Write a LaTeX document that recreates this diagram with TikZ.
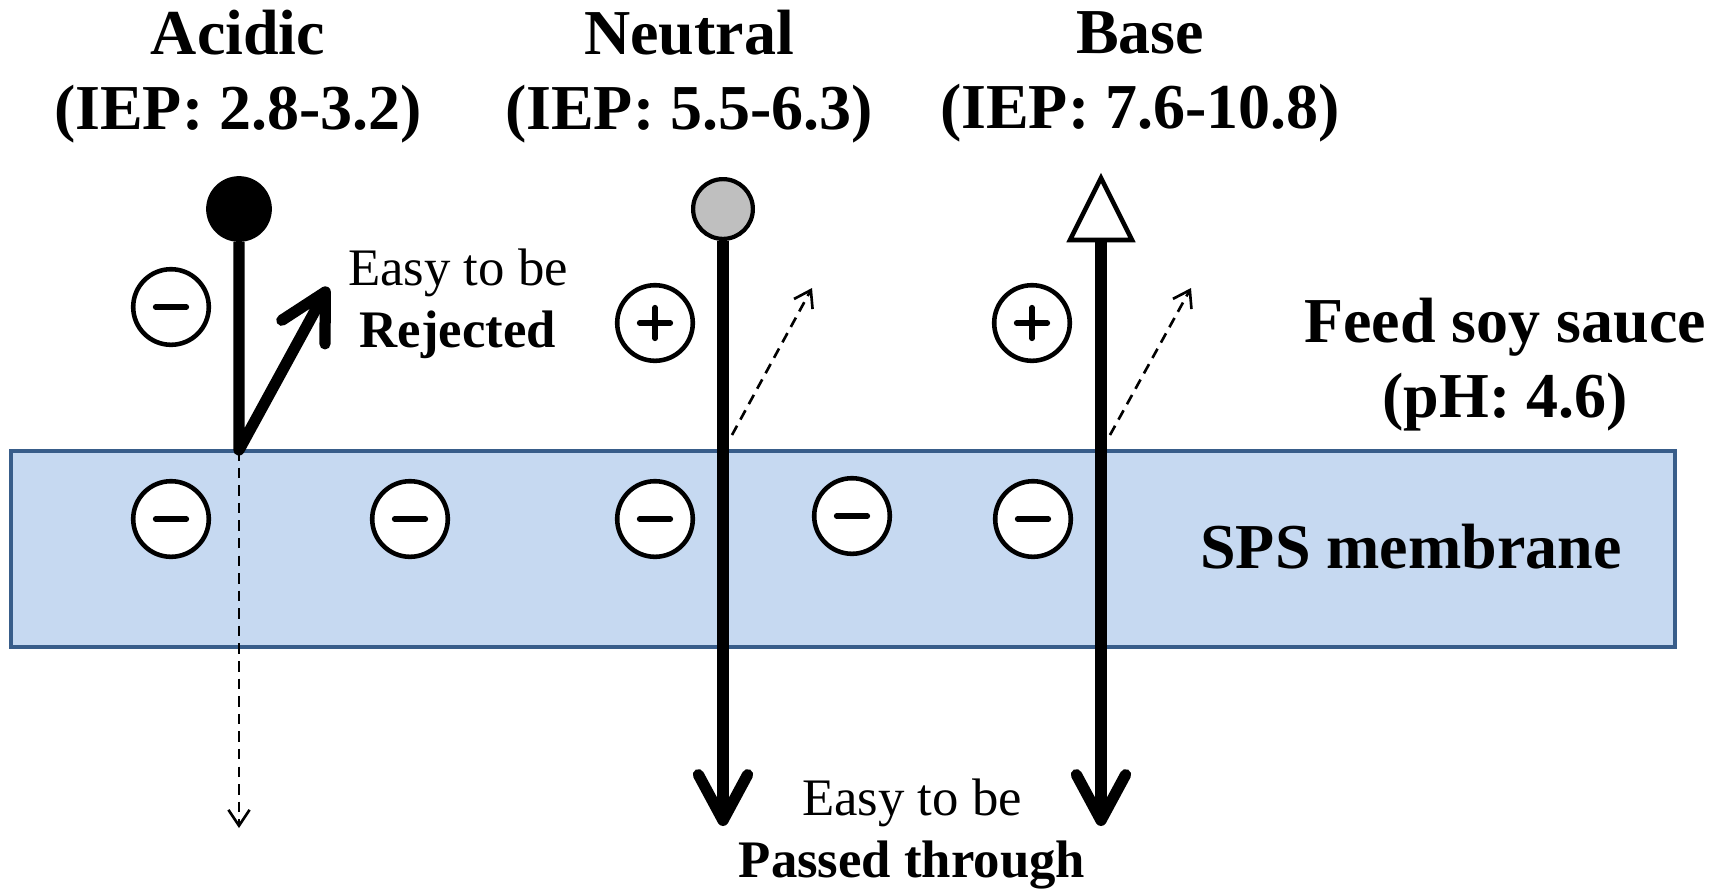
\documentclass[tikz,border=0pt]{standalone}
\usepackage{fontspec}
\setmainfont{Liberation Serif}
\usepackage{tikz}
\usetikzlibrary{arrows.meta,positioning}
\definecolor{memfill}{HTML}{C6D9F1}
\definecolor{memline}{HTML}{385D8A}
\definecolor{neutgray}{HTML}{BFBFBF}

\begin{document}
\begin{tikzpicture}[
    x=0.01cm, y=-0.01cm,
titlelab/.style={font=\fontsize{18.2}{21.3}\selectfont\bfseries, align=center, inner sep=0pt},
notelab/.style={font=\fontsize{15}{17.6}\selectfont, align=center, inner sep=0pt},
membrane/.style={draw=memline, fill=memfill, line width=1.4pt},
charge/.style={circle, draw, fill=white, line width=1.3pt, minimum size=21.5pt, inner sep=0pt},
negcharge/.style={charge, path picture={\draw[line width=1.5pt, line cap=round]
    ([xshift=-4.4pt]path picture bounding box.center) -- ([xshift=4.4pt]path picture bounding box.center);}},
poscharge/.style={charge, path picture={\draw[line width=1.5pt, line cap=round]
    ([xshift=-4.4pt]path picture bounding box.center) -- ([xshift=4.4pt]path picture bounding box.center)
    ([yshift=-4.4pt]path picture bounding box.center) -- ([yshift=4.4pt]path picture bounding box.center);}},
molecule/.style={circle, draw, line width=1.2pt, minimum size=17.5pt, inner sep=0pt},
stem/.style={line width=3.2pt},
flow/.style={stem, line join=round, -{Straight Barb[length=13pt, width=14pt, round]}},
leak/.style={line width=0.75pt, dash pattern=on 3pt off 2pt, -{Straight Barb[length=4.5pt, width=6pt]}},
]
\useasboundingbox (0,0) rectangle (1729,890);

% membrane and its fixed charges
\draw[membrane] (11,451) rectangle (1675,647);
\node[font=\fontsize{18.2}{21.3}\selectfont\bfseries, anchor=base, inner sep=0pt] (memlab) at (1411,568) {SPS membrane};
\foreach \x/\y [count=\i] in {171/519, 410/519, 655/519, 852/516, 1033/519}
  \node[negcharge] (m\i) at (\x,\y) {};

% labels
\node[titlelab] (acidlab) at (238,77) {Acidic\\(IEP: 2.8-3.2)};
\node[titlelab] (neutlab) at (689,77) {Neutral\\(IEP: 5.5-6.3)};
\node[titlelab] (baselab) at (1140,77) {Base\\(IEP: 7.6-10.8)};
\node[titlelab] (feedlab) at (1505,365) {Feed soy sauce\\(pH: 4.6)};
\node[notelab] (rejlab) at (458,304) {Easy to be\\\textbf{Rejected}};
\node[notelab] (passlab) at (912,834) {Easy to be\\\textbf{Passed through}};

% charges of the solutes
\node[negcharge] (acidq) at (171,307) {};
\node[poscharge] (neutq) at (655,323) {};
\node[poscharge] (baseq) at (1032,323) {};

% acidic solute
\node[molecule, fill=black] (acid) at (239,209) {};
\coordinate (acidfoot) at (239,450);
\coordinate (rejtip) at (328,287);
\coordinate (acidend) at (239,828);
\draw[leak] (acidfoot) -- (acidend);
\draw[flow] (acid) -- (acidfoot) -- (rejtip);

% neutral solute
\node[molecule, fill=neutgray, minimum size=17pt] (neut) at (723,209) {};
\coordinate (neutend) at (723,826);
\coordinate (neutleak0) at (732,435);
\coordinate (neutleak1) at (812,288);
\draw[flow] (neut) -- (neutend);
\draw[leak] (neutleak0) -- (neutleak1);

% basic solute
\draw[line width=1.3pt, fill=white] (1101,178) -- (1132,240) -- (1070,240) -- cycle;
\coordinate (basetop) at (1101,241);
\coordinate (baseend) at (1101,826);
\coordinate (baseleak0) at (1110,435);
\coordinate (baseleak1) at (1191,288);
\draw[flow] (basetop) -- (baseend);
\draw[leak] (baseleak0) -- (baseleak1);
\end{tikzpicture}
\end{document}
